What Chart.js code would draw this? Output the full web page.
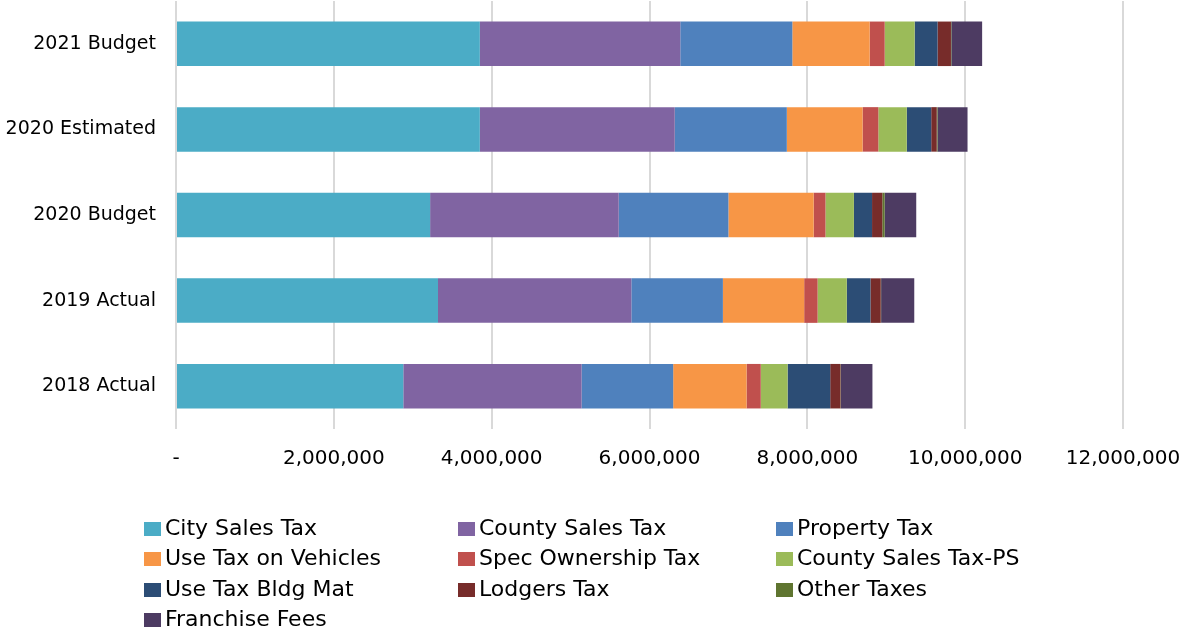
<!DOCTYPE html>
<html><head><meta charset="utf-8">
<script src="https://cdn.jsdelivr.net/npm/chart.js@4/dist/chart.umd.min.js"></script>
<style>
html,body{margin:0;padding:0;background:#fff;}
#wrap{position:relative;width:1182px;height:631px;}
#legend{position:absolute;left:0;top:0;width:1182px;height:631px;pointer-events:none;font-family:"DejaVu Sans",sans-serif;font-size:22px;color:#000;}
.li{position:absolute;white-space:nowrap;line-height:26px;height:26px;}
.li span.b{position:absolute;left:0;top:7px;width:17px;height:14px;}
.li span.t{position:absolute;left:21px;top:0;}
</style></head>
<body><div id="wrap"><canvas id="c" width="1182" height="631"></canvas><div id="legend"></div></div>
<script>
const categories = ["2021 Budget","2020 Estimated","2020 Budget","2019 Actual","2018 Actual"];
const seriesNames = ["City Sales Tax","County Sales Tax","Property Tax","Use Tax on Vehicles","Spec Ownership Tax","County Sales Tax-PS","Use Tax Bldg Mat","Lodgers Tax","Other Taxes","Franchise Fees"];
const seriesColors = ["#4BACC6","#8064A2","#4F81BD","#F79646","#C0504D","#9BBB59","#2C4D75","#772C2A","#5F7530","#4D3B62"];
const citySales      = [3850000,3850000,3220000,3320000,2880000];
const countySales    = [2540000,2470000,2390000,2450000,2260000];
const propertyTax    = [1420000,1420000,1390000,1160000,1160000];
const useTaxVehicles = [ 980000, 960000,1080000,1030000, 930000];
const specOwnership  = [ 190000, 200000, 150000, 170000, 180000];
const countySalesPS  = [ 380000, 360000, 360000, 370000, 340000];
const useTaxBldg     = [ 290000, 310000, 230000, 300000, 540000];
const lodgersTax     = [ 170000,  70000, 130000, 130000, 130000];
const otherTaxes     = [   5000,  10000,  30000,   5000,   5000];
const franchiseFees  = [ 390000, 380000, 400000, 420000, 400000];
const xTicks = [0,2000000,4000000,6000000,8000000,10000000,12000000];

const seriesValues = [citySales,countySales,propertyTax,useTaxVehicles,specOwnership,countySalesPS,useTaxBldg,lodgersTax,otherTaxes,franchiseFees];
const FONT = '"DejaVu Sans", sans-serif';

const chart = new Chart(document.getElementById('c'), {
  type: 'bar',
  data: {
    labels: categories,
    datasets: seriesNames.map((n,i)=>({label:n,data:seriesValues[i],backgroundColor:seriesColors[i],borderWidth:0,categoryPercentage:1,barPercentage:0.52}))
  },
  options: {
    indexAxis: 'y',
    responsive: false,
    animation: false,
    layout: {padding:{top:1,right:59,bottom:0,left:0}},
    plugins: {legend:{display:false}, tooltip:{enabled:false}},
    scales: {
      x: {
        stacked: true, min: 0, max: 12000000,
        afterBuildTicks: s => { s.ticks = xTicks.map(v=>({value:v})); },
        afterFit: s => { s.height = 202; s.paddingLeft = 0; s.paddingRight = 0; },
        grid: {color:'#d9d9d9', lineWidth:2, drawTicks:false},
        border: {display:false},
        ticks: {padding:18, color:'#000', font:{family:FONT,size:20}, maxRotation:0,
          callback: v => v === 0 ? '-' : Number(v).toLocaleString('en-US')}
      },
      y: {
        stacked: true,
        afterFit: s => { s.width = 176; s.paddingTop = 0; s.paddingBottom = 0; },
        grid: {display:false, drawTicks:false},
        border: {display:false},
        ticks: {padding:20, color:'#000', font:{family:FONT,size:19}}
      }
    }
  }
});

// HTML legend built from the chart's datasets
const leg = document.getElementById('legend');
const colX = [144,458,776], rowY = [515,545,576,606];
chart.data.datasets.forEach((ds,i)=>{
  const d = document.createElement('div');
  d.className='li';
  d.style.left = colX[i%3]+'px';
  d.style.top = rowY[Math.floor(i/3)]+'px';
  d.innerHTML = '<span class="b" style="background:'+ds.backgroundColor+'"></span><span class="t"></span>';
  d.querySelector('.t').textContent = ds.label;
  leg.appendChild(d);
});
</script></body></html>
